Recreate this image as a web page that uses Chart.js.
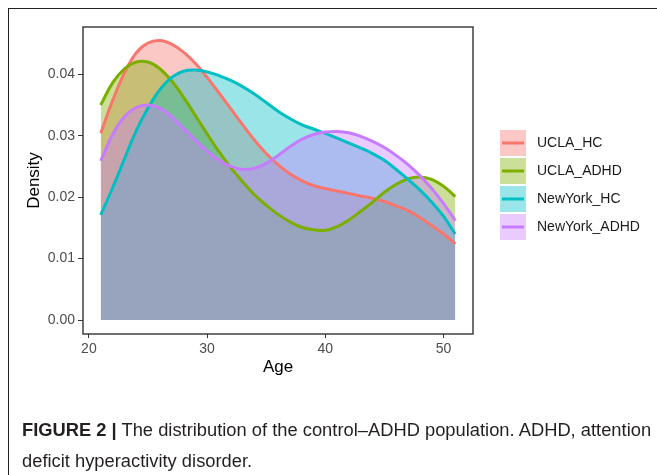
<!DOCTYPE html>
<html>
<head>
<meta charset="utf-8">
<script src="https://cdn.jsdelivr.net/npm/chart.js@4.4.1/dist/chart.umd.min.js"></script>
<style>
  html, body { margin: 0; padding: 0; background: #fff; }
  body { width: 657px; height: 475px; position: relative; overflow: hidden; }
  #frame { position: absolute; left: 8px; top: 8px; width: 700px; height: 500px;
           border-left: 1px solid #222; border-top: 1px solid #222; }
  #chart { position: absolute; left: 0; top: 0; }
  #caption { position: absolute; left: 22px; top: 415px; white-space: nowrap;
             font-family: "Liberation Sans", Arial, sans-serif;
             font-size: 17.5px; line-height: 31px; color: #231f20;
             transform-origin: 0 0; }
  #caption b { font-weight: bold; }
</style>
</head>
<body>
<div id="frame"></div>
<canvas id="chart" width="657" height="475"></canvas>
<div id="caption"><span id="line1"><b>FIGURE 2 |</b> The distribution of the control–ADHD population. ADHD, attention</span><br>deficit hyperactivity disorder.</div>
<script>
// ages on the x axis
const ages = [21, 22, 23, 24, 25, 26, 27, 28, 29, 30, 31, 32, 33, 34, 35, 36,
              37, 38, 39, 40, 41, 42, 43, 44, 45, 46, 47, 48, 49, 50, 51];

const seriesNames = ['UCLA_HC', 'UCLA_ADHD', 'NewYork_HC', 'NewYork_ADHD'];

// density values
const uclaHC = [0.0304, 0.0357, 0.0402, 0.0435, 0.0451, 0.0455, 0.0449, 0.0436, 0.0418, 0.0395,
                0.0370, 0.0344, 0.0318, 0.0293, 0.0271, 0.0253, 0.0238, 0.0227, 0.0219, 0.0214,
                0.0210, 0.0206, 0.0202, 0.0198, 0.0193, 0.0186, 0.0178, 0.0167, 0.0154, 0.0140, 0.0124];
const uclaADHD = [0.0350, 0.0386, 0.0409, 0.0420, 0.0420, 0.0409, 0.0389, 0.0363, 0.0333, 0.0303,
                  0.0274, 0.0248, 0.0225, 0.0204, 0.0187, 0.0172, 0.0160, 0.0151, 0.0147, 0.0146,
                  0.0152, 0.0163, 0.0177, 0.0192, 0.0208, 0.0221, 0.0230, 0.0233, 0.0229, 0.0218, 0.0201];
const nyHC = [0.0171, 0.0215, 0.0262, 0.0308, 0.0345, 0.0375, 0.0395, 0.0405, 0.0407, 0.0404,
              0.0398, 0.0390, 0.0380, 0.0368, 0.0354, 0.0340, 0.0328, 0.0318, 0.0311, 0.0304,
              0.0296, 0.0288, 0.0280, 0.0271, 0.0260, 0.0245, 0.0229, 0.0212, 0.0192, 0.0169, 0.0140];
const nyADHD = [0.0259, 0.0302, 0.0331, 0.0346, 0.0350, 0.0345, 0.0331, 0.0312, 0.0293, 0.0275,
                0.0260, 0.0250, 0.0245, 0.0247, 0.0255, 0.0268, 0.0282, 0.0294, 0.0302, 0.0306,
                0.0307, 0.0305, 0.0299, 0.0291, 0.0281, 0.0268, 0.0253, 0.0235, 0.0214, 0.0190, 0.0162];

const xTicks = [20, 30, 40, 50];
const yTicks = [0.00, 0.01, 0.02, 0.03, 0.04];

const lineColors = ['#F8766D', '#7CAE00', '#00BFC4', '#C77CFF'];
const fillColors = ['rgba(248,118,109,0.4)', 'rgba(124,174,0,0.4)', 'rgba(0,191,196,0.4)', 'rgba(199,124,255,0.4)'];

const allSeries = [uclaHC, uclaADHD, nyHC, nyADHD];

const datasets = allSeries.map((vals, i) => ({
    label: seriesNames[i],
    data: vals.map((v, j) => ({ x: ages[j], y: v })),
    borderColor: lineColors[i],
    backgroundColor: fillColors[i],
    borderWidth: 3,
    fill: 'origin',
    pointRadius: 0,
    tension: 0.4,
    order: allSeries.length - i  // later groups on top, like ggplot
}));

// panel border drawn round the plot area
const panelBorder = {
    id: 'panelBorder',
    afterDatasetsDraw(chart) {
        const { ctx, chartArea: a } = chart;
        ctx.save();
        ctx.strokeStyle = '#333';
        ctx.lineWidth = 1.4;
        ctx.strokeRect(a.left, a.top, a.right - a.left, a.bottom - a.top);
        ctx.restore();
    }
};

// ggplot style legend: filled key with a line across it
const keyLegend = {
    id: 'keyLegend',
    afterDraw(chart) {
        const ctx = chart.ctx;
        ctx.save();
        seriesNames.forEach((name, i) => {
            const y = 130 + i * 28;
            ctx.fillStyle = fillColors[i];
            ctx.fillRect(500, y, 26, 26);
            ctx.strokeStyle = lineColors[i];
            ctx.lineWidth = 3;
            ctx.beginPath();
            ctx.moveTo(502, y + 13);
            ctx.lineTo(524, y + 13);
            ctx.stroke();
            ctx.fillStyle = '#1a1a1a';
            ctx.font = '14px Arial, "Liberation Sans", sans-serif';
            ctx.textBaseline = 'middle';
            ctx.fillText(name, 537, y + 13);
        });
        ctx.restore();
    }
};

const ctx = document.getElementById('chart').getContext('2d');
new Chart(ctx, {
    type: 'line',
    data: { datasets: datasets },
    plugins: [panelBorder, keyLegend],
    options: {
        responsive: false,
        animation: false,
        layout: { padding: { left: 20.4, top: 27, right: 184, bottom: 93.4 } },
        plugins: {
            legend: { display: false },
            tooltip: { enabled: false },
            filler: { drawTime: 'beforeDatasetsDraw' }  // all fills first, lines on top
        },
        scales: {
            x: {
                type: 'linear',
                min: 19.5,
                max: 52.5,
                afterFit: s => { s.height = 47.6; },
                afterBuildTicks: s => { s.ticks = xTicks.map(v => ({ value: v })); },
                ticks: {
                    font: { family: 'Arial, "Liberation Sans", sans-serif', size: 14 },
                    color: '#4d4d4d',
                    padding: 3,
                    maxRotation: 0,
                    callback: v => String(v)
                },
                grid: { drawOnChartArea: false, drawTicks: true, tickLength: 4, color: '#333' },
                border: { display: false },
                title: {
                    display: true,
                    text: 'Age',
                    color: '#000',
                    font: { family: 'Arial, "Liberation Sans", sans-serif', size: 17 },
                    padding: { top: 4, bottom: 4 }
                }
            },
            y: {
                min: -0.00227,
                max: 0.0477,
                afterFit: s => { s.width = 62.6; },
                afterBuildTicks: s => { s.ticks = yTicks.map(v => ({ value: v })); },
                ticks: {
                    font: { family: 'Arial, "Liberation Sans", sans-serif', size: 14 },
                    color: '#4d4d4d',
                    padding: 3,
                    callback: v => v.toFixed(2)
                },
                grid: { drawOnChartArea: false, drawTicks: true, tickLength: 5, color: '#333' },
                border: { display: false },
                title: {
                    display: true,
                    text: 'Density',
                    color: '#000',
                    font: { family: 'Arial, "Liberation Sans", sans-serif', size: 17 },
                    padding: { top: 4, bottom: 4 }
                }
            }
        }
    }
});

// squeeze the caption so its first line has the width it has in the figure
const line1 = document.getElementById('line1');
const w = line1.getBoundingClientRect().width;
document.getElementById('caption').style.transform = 'scaleX(' + (629 / w).toFixed(3) + ')';
</script>
</body>
</html>
